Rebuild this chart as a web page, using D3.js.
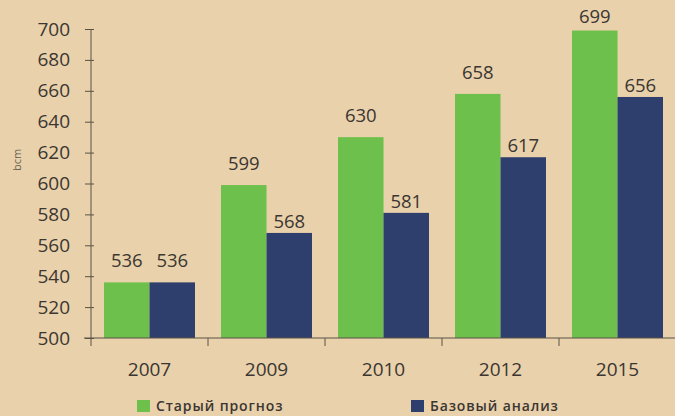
<!DOCTYPE html>
<html><head><meta charset="utf-8">
<script src="https://cdn.jsdelivr.net/npm/d3@7"></script>
<style>
body{margin:0;background:#e9d1ab;}
svg{display:block;}
</style></head><body>
<svg id="chart" width="675" height="416"></svg>
<script>
const years = ["2007","2009","2010","2012","2015"];
const oldForecast = [536,599,630,658,699];
const baseCase = [536,568,581,617,656];
const yTicks = [500,520,540,560,580,600,620,640,660,680,700];
const seriesNames = ["Старый прогноз","Базовый анализ"];
const colors = ["#6dc04b","#2e3f6d"];

(function(){
const svg = d3.select("#chart");
const W = 675, H = 416;
svg.append("rect").attr("width",W).attr("height",H).attr("fill","#e9d1ab");

const mLeft = 91, mRight = 676, mTop = 29, mBottom = 338;
const x = d3.scaleBand().domain(years).range([mLeft,mRight]).paddingInner(0).paddingOuter(0);
const y = d3.scaleLinear().domain([500,700]).range([mBottom,mTop]);
const inner = d3.scaleBand().domain([0,1]).range([13, x.bandwidth()-13]).padding(0);

const font = "'Open Sans', 'DejaVu Sans', sans-serif";
const textColor = "#3b3631";
const axisColor = "#5a5246";

// bars and value labels; the forecast labels sit higher than the base-case ones,
// and equal pairs share one baseline
const series = [oldForecast, baseCase];
const labelGap = [15, 5];
series.forEach((vals,si)=>{
  const g = svg.append("g");
  g.selectAll("rect").data(vals).join("rect")
    .attr("x",(d,i)=>x(years[i])+inner(si))
    .attr("width",inner.bandwidth())
    .attr("y",d=>y(d))
    .attr("height",d=>y(500)-y(d))
    .attr("fill",colors[si]);
  g.selectAll("text").data(vals).join("text")
    .attr("x",(d,i)=>x(years[i])+inner(si)+inner.bandwidth()/2)
    .attr("y",(d,i)=>{
      const gap = (oldForecast[i]===baseCase[i]) ? labelGap[0] : labelGap[si];
      return Math.max(y(d)-gap, 23);
    })
    .attr("text-anchor","middle")
    .attr("font-family",font).attr("font-size",18.5)
    .attr("fill",textColor)
    .text(d=>d);
});

// y axis
const yAxis = d3.axisLeft(y).tickValues(yTicks).tickSize(6).tickPadding(15);
const ya = svg.append("g").attr("transform",`translate(${mLeft},0)`).call(yAxis);
ya.select(".domain").attr("stroke",axisColor).attr("d",`M0,${mTop}V${mBottom+8}`);
ya.selectAll(".tick line").attr("stroke",axisColor).attr("x1",3);
ya.selectAll(".tick text").attr("font-family",font).attr("font-size",19).attr("fill",textColor);

// x axis
const xAxis = d3.axisBottom(x).tickSize(0).tickPadding(25);
const xa = svg.append("g").attr("transform",`translate(0,${mBottom})`).call(xAxis);
xa.select(".domain").attr("stroke",axisColor).attr("d",`M${mLeft-7},0H${mRight}`);
xa.selectAll(".tick text").attr("font-family",font).attr("font-size",19).attr("fill",textColor);
// category separators
svg.append("g").selectAll("line").data(years.slice(1)).join("line")
  .attr("x1",d=>x(d)).attr("x2",d=>x(d))
  .attr("y1",mBottom).attr("y2",mBottom+8)
  .attr("stroke",axisColor);

// unit label
svg.append("text")
  .attr("transform","translate(21,160) rotate(-90)")
  .attr("text-anchor","middle")
  .attr("font-family",font).attr("font-size",11)
  .attr("fill","#6a6258")
  .text("bcm");

// legend
const legendX = [137,411];
seriesNames.forEach((n,i)=>{
  svg.append("rect").attr("x",legendX[i]).attr("y",400).attr("width",13).attr("height",12).attr("fill",colors[i]);
  svg.append("text").attr("x",legendX[i]+19).attr("y",411)
    .attr("font-family",font).attr("font-size",14).attr("font-weight","600")
    .attr("letter-spacing",0.9)
    .attr("fill",textColor).text(n);
});
})();
</script>
</body></html>
